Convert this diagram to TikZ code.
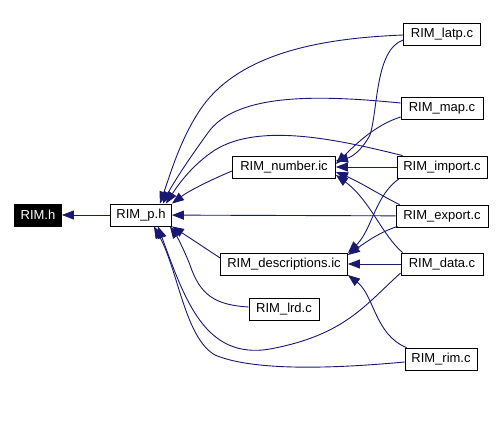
\documentclass[tikz,border=0pt]{standalone}
\usepackage{fontspec}
\setmainfont{Liberation Sans}
\usetikzlibrary{arrows.meta}
\definecolor{edge}{HTML}{191970}
\tikzset{
  x=1pt,y=-1pt,
  every node/.style={font=\fontsize{13}{15}\selectfont},
  box/.style={draw=black,fill=white,minimum height=22pt,inner xsep=2pt,inner ysep=0pt,line width=0.8pt},
  topbox/.style={box,fill=black,text=white},
  arrow/.style={-{Triangle[length=12pt,width=9pt]},draw=edge,line width=0.9pt},
}

\begin{document}
\begin{tikzpicture}
\useasboundingbox[fill=white] (0,0) rectangle (503,428);

% files
\node[topbox,minimum width=47pt] (rimh) at (38,215) {RIM.h};
\node[box,minimum width=61pt] (rimp) at (141,215) {RIM\_p.h};
\node[box,minimum width=103pt] (number) at (284,167) {RIM\_number.ic};
\node[box,minimum width=127pt] (descr) at (284,264) {RIM\_descriptions.ic};
\node[box,minimum width=70pt] (lrd) at (284,309) {RIM\_lrd.c};
\node[box,minimum width=77pt] (latp) at (442,34) {RIM\_latp.c};
\node[box,minimum width=82pt] (map) at (442,108) {RIM\_map.c};
\node[box,minimum width=90pt] (import) at (442,167) {RIM\_import.c};
\node[box,minimum width=92pt] (export) at (442,216) {RIM\_export.c};
\node[box,minimum width=82pt] (data) at (442,264) {RIM\_data.c};
\node[box,minimum width=72pt] (rim) at (441,359) {RIM\_rim.c};

% includes of RIM_p.h
\draw[arrow] (rimp) -- (rimh);
\draw[arrow] (number.west) ++(0,4) .. controls (215,178) and (190,190) .. (rimp.north east);
\draw[arrow] (descr.west) ++(0,-6) .. controls (205,248) and (190,238) .. (rimp.south east);
\draw[arrow] (lrd.west) ++(0,-2) .. controls (215,305) and (200,295) .. (190,265) .. controls (182,245) and (176,235) .. ([xshift=-2pt]rimp.south east);
\draw[arrow] (latp.west) ++(0,1) .. controls (330,38) and (240,50) .. (200,110) .. controls (180,140) and (170,175) .. ([xshift=-12pt]rimp.north east);
\draw[arrow] (map.west) ++(0,-5) .. controls (320,95) and (240,93) .. (210,130) .. controls (188,160) and (172,185) .. ([xshift=-9pt]rimp.north east);
\draw[arrow] (import.north west) ++(6,0) .. controls (340,140) and (260,122) .. (215,150) .. controls (192,165) and (178,185) .. ([xshift=-6pt]rimp.north east);
\draw[arrow] (export) -- (rimp);
\draw[arrow] (data.west) ++(0,9) .. controls (365,305) and (345,335) .. (270,349) .. controls (205,360) and (185,300) .. ([xshift=-14pt]rimp.south east);
\draw[arrow] (rim.west) ++(0,3) .. controls (340,368) and (255,372) .. (215,355) .. controls (185,338) and (178,270) .. ([xshift=-18pt]rimp.south east);

% includes of RIM_number.ic
\draw[arrow] (latp.west) ++(0,6) .. controls (375,50) and (378,110) .. (370,135) .. controls (362,150) and (352,157) .. ([yshift=6pt]number.east);
\draw[arrow] (map.west) ++(0,9) .. controls (375,125) and (355,145) .. ([yshift=3pt]number.east);
\draw[arrow] (import) -- (number);
\draw[arrow] (export.north west) ++(4,0) .. controls (380,195) and (360,182) .. ([yshift=-5pt]number.east);
\draw[arrow] (data.north west) ++(2,0) .. controls (382,235) and (370,200) .. ([yshift=-8pt]number.east);

% includes of RIM_descriptions.ic
\draw[arrow] (import.south west) ++(3,0) .. controls (375,195) and (372,230) .. ([yshift=11pt]descr.east);
\draw[arrow] (export.south west) ++(2,-1) .. controls (380,232) and (366,242) .. ([yshift=9pt]descr.east);
\draw[arrow] (data) -- (descr);
\draw[arrow] (rim.north west) ++(2,0) .. controls (375,335) and (374,295) .. ([yshift=-11pt]descr.east);

\end{tikzpicture}
\end{document}
